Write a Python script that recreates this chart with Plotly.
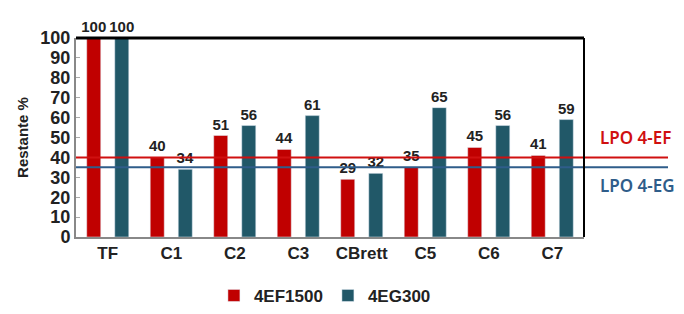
import plotly.graph_objects as go

categories = ["TF", "C1", "C2", "C3", "CBrett", "C5", "C6", "C7"]
ef1500 = [100, 40, 51, 44, 29, 35, 45, 41]
eg300 = [100, 34, 56, 61, 32, 65, 56, 59]
lpo_ef = 40
lpo_eg = 35
y_ticks = [0, 10, 20, 30, 40, 50, 60, 70, 80, 90, 100]

RED = "#C00000"
TEAL = "#215868"
LINE_BLUE = "#2F5D8A"
FONT = "Liberation Sans, Arial, sans-serif"
TXT = "#222222"

fig = go.Figure()
fig.add_bar(x=categories, y=ef1500, name="4EF1500", marker_color=RED,
            text=[str(v) for v in ef1500], textposition="outside", cliponaxis=False,
            constraintext="none",
            textfont=dict(family=FONT, size=15, color=TXT, weight="bold"))
fig.add_bar(x=categories, y=eg300, name="4EG300", marker_color=TEAL,
            text=[str(v) for v in eg300], textposition="outside", cliponaxis=False,
            constraintext="none",
            textfont=dict(family=FONT, size=15, color=TXT, weight="bold"))

x_end = (668 - 76) / 508
fig.add_shape(type="line", xref="paper", yref="y", x0=0, x1=x_end, y0=lpo_ef, y1=lpo_ef,
              line=dict(color="#D01010", width=2))
fig.add_shape(type="line", xref="paper", yref="y", x0=0, x1=x_end, y0=lpo_eg, y1=lpo_eg,
              line=dict(color=LINE_BLUE, width=2))
# top and right black frame
fig.add_shape(type="line", xref="paper", yref="paper", x0=0, x1=1, y0=1, y1=1,
              line=dict(color="black", width=3))
fig.add_shape(type="line", xref="paper", yref="paper", x0=1, x1=1, y0=0, y1=1,
              line=dict(color="black", width=2))

fig.add_annotation(xref="paper", yref="y", x=(598 - 76) / 508, y=50, text="LPO 4-EF",
                   showarrow=False, xanchor="left", yanchor="middle",
                   font=dict(family="Noto Sans, sans-serif", size=17, color="#D01010", weight=600))
fig.add_annotation(xref="paper", yref="y", x=(598 - 76) / 508, y=26, text="LPO 4-EG",
                   showarrow=False, xanchor="left", yanchor="middle",
                   font=dict(family="Noto Sans, sans-serif", size=17, color=LINE_BLUE, weight=600))

# page body has an 8px margin: compensate so the plot area lands where the reference has it
fig.update_layout(
    width=668, height=298,
    margin=dict(l=68, r=92, t=30, b=69, autoexpand=False),
    paper_bgcolor="white", plot_bgcolor="white",
    barmode="group", bargap=0.117, bargroupgap=0.5,
    font=dict(family=FONT, color=TXT),
    showlegend=True,
    legend=dict(orientation="h", x=0.49, xanchor="center", y=-0.296, yanchor="middle",
                font=dict(family=FONT, size=17, color=TXT, weight="bold"),
                traceorder="normal"),
)
fig.update_xaxes(showline=True, linecolor="#888888", linewidth=2,
                 ticks="", tickfont=dict(family=FONT, size=17, color=TXT, weight="bold"),
                 showgrid=False)
fig.update_yaxes(range=[0, 100], tickvals=y_ticks, showline=True, linecolor="#888888",
                 linewidth=2, ticks="inside", ticklen=4, tickcolor="#aaaaaa",
                 tickfont=dict(family=FONT, size=18, color=TXT, weight="bold"),
                 showgrid=False, zeroline=False,
                 title=dict(text="Restante %",
                            font=dict(family=FONT, size=15, color=TXT, weight="bold"),
                            standoff=8))

fig.write_html("out.html")
